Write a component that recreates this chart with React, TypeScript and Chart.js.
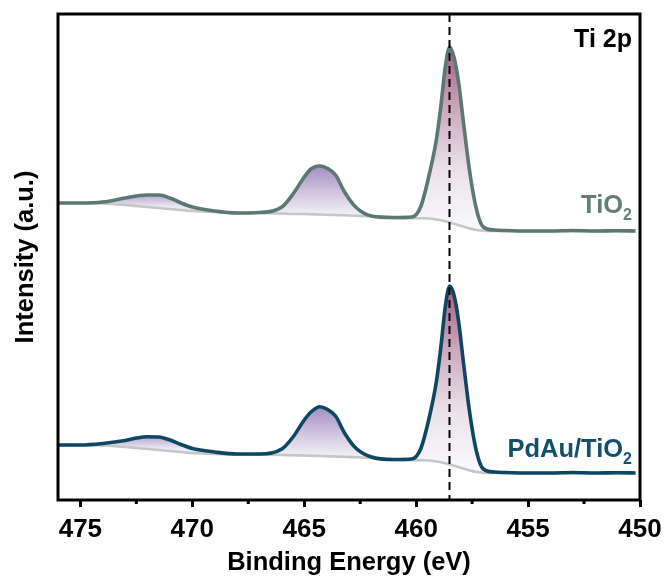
import React, { useEffect, useRef } from 'react';
import { Chart, registerables } from 'chart.js';

Chart.register(...registerables);

// ---------- data ----------
const bindingEnergy = [
  476, 475, 474, 473, 472.5, 472, 471.5, 471, 470.5, 470, 469, 468, 467, 466, 465.5, 465,
  464.7, 464.3, 464, 463.6, 463.2, 462.7, 462, 461, 460.2, 459.8, 459.4, 459.1, 458.9, 458.7,
  458.5, 458.3, 458.1, 457.9, 457.6, 457.3, 457, 456.5, 456, 455, 454, 453, 452, 451, 450.2,
];

const tio2Signal = [
  297, 297, 298, 302, 304, 305, 305, 302, 297, 293, 289, 287, 287.5, 293, 306, 323,
  331, 334, 332, 325, 308, 293, 284, 282.5, 283, 293, 327, 360, 393, 433,
  453, 442, 417, 380, 327, 290, 273, 270, 269.5, 269, 269, 269.5, 269, 269.3, 269,
];

const tio2Background = [
  297, 297, 296.5, 295, 294, 293, 292, 291, 290, 289, 288, 287, 287, 286.5, 286, 286,
  285.7, 285.5, 285.3, 285, 284.7, 284.3, 283.7, 282, 281.8, 281.7, 281.5, 280.5, 279.7, 278.8,
  277.5, 276.2, 274.8, 273.5, 271.5, 270, 269.2, 269, 269, 269, 269, 269, 269, 269, 269,
];

const pdauSignal = [
  55, 55, 56.5, 59.5, 62, 63.3, 63, 60, 55.5, 51.5, 48, 46, 46, 51, 63, 80,
  88, 93.3, 91, 84, 67, 52, 43, 40.5, 41, 51, 84, 118, 152, 193,
  214, 204, 178, 140, 86, 48, 31, 28, 27.5, 27, 27, 27.5, 27, 27.3, 27,
];

const pdauBackground = [
  55, 55, 54.5, 53, 52, 51, 50, 49, 48, 47, 46, 45.5, 45.3, 45, 44.7, 44.5,
  44.2, 44, 43.8, 43.5, 43.2, 42.8, 42, 40, 39.8, 39.7, 39.5, 38.5, 37.7, 36.8,
  35.5, 34.2, 32.8, 31.5, 29.5, 28, 27.2, 27, 27, 27, 27, 27, 27, 27, 27,
];

// peak regions (binding-energy ranges, high -> low)
const peakRanges: [number, number][] = [
  [476, 468],
  [468, 462],
  [462, 455],
];

const xMin = 450;
const xMax = 476;
const majorStep = 5;
const minorTicks = [472.5, 467.5, 462.5, 457.5, 452.5];
const referenceEnergy = 458.55;

const sampleLabels = ['TiO', 'PdAu/TiO'];
const panelLabel = 'Ti 2p';

// ---------- styles ----------
const FONT = '"Liberation Sans", Arial, sans-serif';
const tio2Color = '#5b7872';
const tio2TextColor = '#647d78';
const pdauColor = '#0e4761';
const pdauTextColor = '#14506a';
const bgLineColor = 'rgb(198,198,198)';

const peakStops: [number, string][][] = [
  [[0, 'rgb(184,166,210)'], [1, 'rgb(238,234,244)']],
  [[0, 'rgb(164,140,192)'], [0.5, 'rgb(204,192,220)'], [1, 'rgb(242,240,246)']],
  [[0, 'rgb(160,92,130)'], [0.35, 'rgb(203,168,190)'], [0.7, 'rgb(234,226,234)'], [1, 'rgb(248,247,250)']],
];

function points(values: number[]) {
  return bindingEnergy.map((x, i) => ({ x, y: values[i] }));
}

function rangePoints(values: number[], hi: number, lo: number) {
  return points(values).filter((p) => p.x <= hi && p.x >= lo);
}

function gradientFor(signal: number[], background: number[], hi: number, lo: number, stops: [number, string][]) {
  return (ctx: any) => {
    const chart = ctx.chart;
    if (!chart.chartArea) return 'rgba(0,0,0,0)';
    let best = -1;
    bindingEnergy.forEach((x, i) => {
      if (x <= hi && x >= lo && (best < 0 || signal[i] > signal[best])) best = i;
    });
    const yScale = chart.scales.y;
    const y0 = yScale.getPixelForValue(signal[best]);
    const y1 = yScale.getPixelForValue(background[best]);
    const g = chart.ctx.createLinearGradient(0, y0, 0, y1);
    stops.forEach(([o, c]) => g.addColorStop(o, c));
    return g;
  };
}

function spectrumDatasets(signal: number[], background: number[], color: string, baseIndex: number) {
  const sets: any[] = [
    {
      data: points(signal),
      borderColor: color,
      borderWidth: 3.6,
      pointRadius: 0,
      cubicInterpolationMode: 'monotone',
      fill: false,
      order: 0,
    },
    {
      data: points(background),
      borderColor: bgLineColor,
      borderWidth: 2.6,
      pointRadius: 0,
      cubicInterpolationMode: 'monotone',
      fill: false,
      order: 1,
    },
  ];
  peakRanges.forEach(([hi, lo], k) => {
    sets.push({
      data: rangePoints(signal, hi, lo),
      borderColor: 'rgba(0,0,0,0)',
      borderWidth: 0,
      pointRadius: 0,
      cubicInterpolationMode: 'monotone',
      backgroundColor: gradientFor(signal, background, hi, lo, peakStops[k]),
      fill: baseIndex + 1,
      order: 2,
    });
  });
  return sets;
}

const decorPlugin = {
  id: 'decor',
  afterDatasetsDraw(chart: any) {
    const { ctx, chartArea: a, scales } = chart;
    const x = scales.x;
    ctx.save();
    // dashed reference line
    const rx = Math.round(x.getPixelForValue(referenceEnergy)) + 0.5;
    ctx.strokeStyle = '#000';
    ctx.lineWidth = 2;
    ctx.setLineDash([8, 5]);
    ctx.beginPath();
    ctx.moveTo(rx, a.top);
    ctx.lineTo(rx, a.bottom);
    ctx.stroke();
    ctx.setLineDash([]);
    // frame
    ctx.lineWidth = 3;
    ctx.strokeRect(a.left, a.top, a.right - a.left, a.bottom - a.top);
    // minor ticks
    ctx.lineWidth = 3;
    minorTicks.forEach((v) => {
      const px = x.getPixelForValue(v);
      ctx.beginPath();
      ctx.moveTo(px, a.bottom);
      ctx.lineTo(px, a.bottom + 4);
      ctx.stroke();
    });
    // labels
    const rightX = a.right - 8;
    const drawSub = (main: string, sub: string, color: string, baseY: number) => {
      ctx.fillStyle = color;
      ctx.textBaseline = 'alphabetic';
      ctx.textAlign = 'right';
      ctx.font = `bold 16px ${FONT}`;
      const sw = ctx.measureText(sub).width;
      ctx.fillText(sub, rightX, baseY + 7);
      ctx.font = `bold 25.5px ${FONT}`;
      ctx.fillText(main, rightX - sw, baseY);
    };
    drawSub(sampleLabels[0], '2', tio2TextColor, a.top + 199);
    drawSub(sampleLabels[1], '2', pdauTextColor, a.top + 443);
    ctx.fillStyle = '#000';
    ctx.textAlign = 'right';
    ctx.font = `bold 25px ${FONT}`;
    ctx.fillText(panelLabel, rightX, a.top + 33);
    ctx.restore();
  },
};

export default function App() {
  const ref = useRef<HTMLCanvasElement>(null);

  useEffect(() => {
    const canvas = ref.current;
    if (!canvas) return;
    const datasets = [
      ...spectrumDatasets(tio2Signal, tio2Background, tio2Color, 0),
      ...spectrumDatasets(pdauSignal, pdauBackground, pdauColor, 5),
    ];
    const chart = new Chart(canvas, {
      type: 'line',
      data: { datasets },
      options: {
        responsive: false,
        animation: false,
        devicePixelRatio: 1,
        layout: { padding: { left: 0, right: 28, top: 14, bottom: 0 } },
        plugins: { legend: { display: false }, tooltip: { enabled: false } },
        scales: {
          x: {
            type: 'linear',
            min: xMin,
            max: xMax,
            reverse: true,
            ticks: {
              stepSize: majorStep,
              includeBounds: false,
              color: '#000',
              font: { family: FONT, size: 26, weight: 'bold' },
              padding: 7,
              maxRotation: 0,
              autoSkip: false,
            },
            grid: {
              display: true,
              drawOnChartArea: false,
              drawTicks: true,
              tickLength: 7,
              lineWidth: 3,
              color: '#000',
            },
            border: { display: false },
            title: {
              display: true,
              text: 'Binding Energy (eV)',
              color: '#000',
              font: { family: FONT, size: 25.5, weight: 'bold' },
              padding: { top: 0, bottom: 6 },
            },
            afterFit: (s: any) => {
              s.height = 84;
              s.paddingLeft = 0;
              s.paddingRight = 0;
            },
          },
          y: {
            type: 'linear',
            min: 0,
            max: 486,
            ticks: { display: false },
            grid: { display: false },
            border: { display: false },
            title: {
              display: true,
              text: 'Intensity (a.u.)',
              color: '#000',
              font: { family: FONT, size: 25.5, weight: 'bold' },
              padding: { top: 11, bottom: 0 },
            },
            afterFit: (s: any) => {
              s.width = 58;
              s.paddingTop = 0;
              s.paddingBottom = 0;
            },
          },
        },
      } as any,
      plugins: [decorPlugin],
    });
    return () => chart.destroy();
  }, []);

  return (
    <div style={{ position: 'fixed', left: 0, top: 0, width: 668, height: 584, background: '#fff' }}>
      <canvas ref={ref} width={668} height={584} style={{ display: 'block', width: 668, height: 584 }} />
    </div>
  );
}
